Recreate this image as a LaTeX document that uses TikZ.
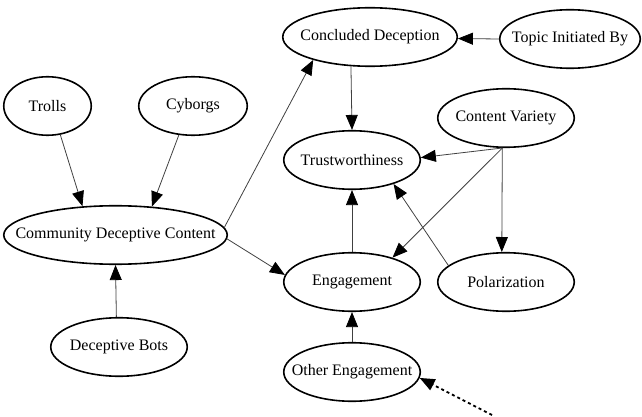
\documentclass[tikz,border=0pt]{standalone}
\usepackage{fontspec}
\setmainfont{Liberation Serif}
\usetikzlibrary{shapes.geometric,arrows.meta}

% label text takes no width, so each ellipse keeps its given size
\newcommand{\tag}[1]{\makebox[0pt]{#1}}

\tikzset{
  factor/.style={ellipse, draw, line width=1.6pt, inner sep=0pt,
    minimum height=58.5pt, font=\fontsize{16}{18}\selectfont},
  link/.style={draw=black!75, line width=0.8pt,
    -{Triangle[length=15pt,width=12pt,color=black]}},
  hidden/.style={draw=black, line width=1.8pt, dash pattern=on 3pt off 3pt,
    -{Triangle[length=15pt,width=12pt,color=black]}}
}

\begin{document}
\begin{tikzpicture}[x=1pt,y=-1pt]
  \useasboundingbox (0,0) rectangle (642,417);

  % factors
  \node[factor, minimum width=87.5pt]  (trolls)  at (47.5,106) {\tag{Trolls}};
  \node[factor, minimum width=108.5pt] (cyborgs) at (193,106)  {\tag{Cyborgs}};
  \node[factor, minimum width=223.5pt] (cdc)     at (115.5,235) {\tag{Community Deceptive Content}};
  \node[factor, minimum width=136.5pt] (bots)    at (119,347)  {\tag{Deceptive Bots}};
  \node[factor, minimum width=174.5pt] (concl)   at (370,37)   {\tag{Concluded Deception}};
  \node[factor, minimum width=140.5pt] (topic)   at (570,39)   {\tag{Topic Initiated By}};
  \node[factor, minimum width=136.5pt] (cv)      at (506,118)  {\tag{Content Variety}};
  \node[factor, minimum width=136.5pt] (trust)   at (352,160)  {\tag{Trustworthiness}};
  \node[factor, minimum width=136.5pt] (eng)     at (352,282)  {\tag{Engagement}};
  \node[factor, minimum width=136.5pt] (pol)     at (506,282)  {\tag{Polarization}};
  \node[factor, minimum width=136.5pt] (other)   at (352,372)  {\tag{Other Engagement}};
  \coordinate (outside) at (492,415);

  % influences
  \draw[link] (trolls.-66)  -- (cdc.139);
  \draw[link] (cyborgs.-116) -- (cdc.38);
  \draw[link] (bots.95)     -- (cdc.south);
  \draw[link] (cdc.4)       -- (concl.202);
  \draw[link] (cdc.-2)      -- (eng.174);
  \draw[link] (topic.west)  -- (concl.-1.5);
  \draw[link] (concl.-123)  -- (trust.north);
  \draw[link] (cv.-97)      -- (trust.2);
  \draw[link] (cv.-97)      -- (eng.31);
  \draw[link] (cv.-97)      -- (pol.98);
  \draw[link] (pol.164)     -- (trust.-30);
  \draw[link] (eng.north)   -- (trust.south);
  \draw[link] (other.north) -- (eng.south);
  \draw[hidden] (outside)   -- (other.-5);
\end{tikzpicture}
\end{document}
